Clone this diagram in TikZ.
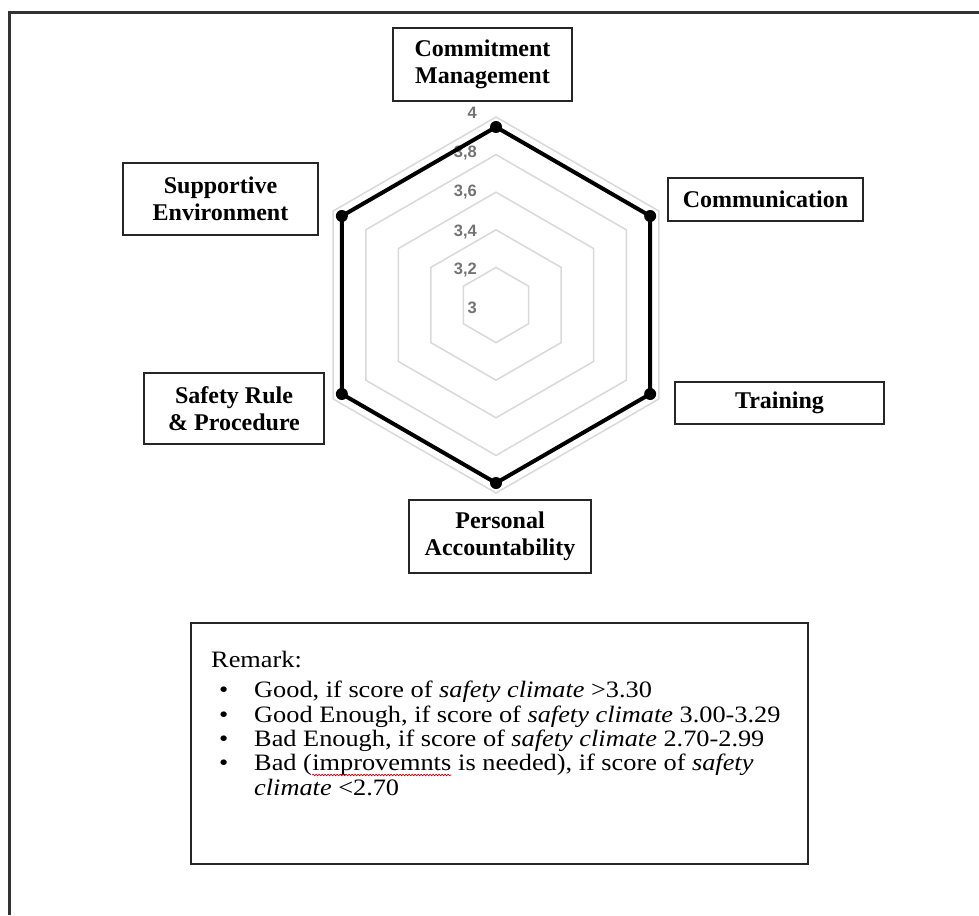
\documentclass[tikz,border=0pt]{standalone}
\usepackage{fontspec}
\setmainfont{Liberation Serif}
\newfontfamily\axisfont{Liberation Sans}
\newfontfamily\remfont[FakeStretch=1.12]{Liberation Serif}
\usetikzlibrary{decorations.pathmorphing}
\begin{document}
\begin{tikzpicture}[x=1pt,y=-1pt,
  lbl/.style={draw=black!85, line width=1.3pt, fill=white, align=center, inner sep=0pt, font=\fontsize{24}{27.5}\selectfont\bfseries},
  ring/.style={draw=black!15, line width=1.5pt},
  ax/.style={anchor=east, inner sep=0pt, text=black!55, font=\axisfont\bfseries\fontsize{16.5}{18}\selectfont},
  rem/.style={anchor=base west, inner sep=0pt, font=\remfont\fontsize{23.5}{25}\selectfont},
  dot/.style={circle, fill=black, minimum size=12pt, inner sep=0pt}
]
\useasboundingbox (0,0) rectangle (979,915);
\fill[white] (0,0) rectangle (979,915);
\draw[line width=3pt, black!80] (9,915) -- (9,13) -- (979,13);

\coordinate (c) at (496,305);
\foreach \r in {37.6,75.2,112.8,150.4,188}{
  \draw[ring] (c) +(90:\r) -- +(150:\r) -- +(210:\r) -- +(270:\r) -- +(330:\r) -- +(30:\r) -- cycle;
}
\node[ax] (a4) at (477,113) {4};
\node[ax] (a38) at (477,153) {3,8};
\node[ax] (a36) at (477,192) {3,6};
\node[ax] (a34) at (477,232) {3,4};
\node[ax] (a32) at (477,270) {3,2};
\node[ax] (a3) at (477,308) {3};

\path (c) +(270:178) coordinate (dCM) +(330:178) coordinate (dCO) +(30:178) coordinate (dTR)
          +(90:178) coordinate (dPA) +(150:178) coordinate (dSR) +(210:178) coordinate (dSE);
\draw[line width=4pt, line join=round] (dCM) -- (dCO) -- (dTR) -- (dPA) -- (dSR) -- (dSE) -- cycle;
\foreach \p in {dCM,dCO,dTR,dPA,dSR,dSE}{ \node[dot] at (\p) {}; }

\node[lbl, minimum width=179pt, minimum height=73pt] (CM) at (482.5,64.5) {Commitment\\Management};
\node[lbl, minimum width=195pt, minimum height=72pt] (SE) at (220.5,199) {Supportive\\Environment};
\node[lbl, minimum width=195pt, minimum height=43pt] (CO) at (765.5,199.5) {Communication};
\node[lbl, minimum width=180pt, minimum height=71pt] (SR) at (234,408.5) {Safety Rule\\\& Procedure};
\node[lbl, minimum width=209pt, minimum height=42pt] (TR) at (779.5,403) {Training};
\node[lbl, minimum width=182pt, minimum height=73pt] (PA) at (500,536.5) {Personal\\Accountability};

\node[draw=black!85, line width=1.6pt, minimum width=617pt, minimum height=241pt, inner sep=0pt] (remark) at (499.5,743.5) {};
\node[rem] (rk) at (211,667) {Remark:};
\node[rem] (b1) at (219,697) {\textbullet};
\node[rem] (b2) at (219,722) {\textbullet};
\node[rem] (b3) at (219,746) {\textbullet};
\node[rem] (b4) at (219,770) {\textbullet};
\node[rem] (t1) at (254,697) {Good, if score of \textit{safety climate} >3.30};
\node[rem] (t2) at (254,722) {Good Enough, if score of \textit{safety climate} 3.00-3.29};
\node[rem] (t3) at (254,746) {Bad Enough, if score of \textit{safety climate} 2.70-2.99};
\node[rem] (t4a) at (254,770) {Bad (};
\node[rem] (t4b) at (t4a.base east) {improvemnts};
\node[rem] (t4c) at (t4b.base east) {\ is needed), if score of \textit{safety}};
\node[rem] (t5) at (254,795) {\textit{climate} <2.70};
\draw[red!80!black, line width=0.7pt, decorate, decoration={snake, amplitude=0.7pt, segment length=3pt}]
  ([yshift=-5pt]t4b.base west) -- ([yshift=-5pt]t4b.base east);
\end{tikzpicture}
\end{document}
